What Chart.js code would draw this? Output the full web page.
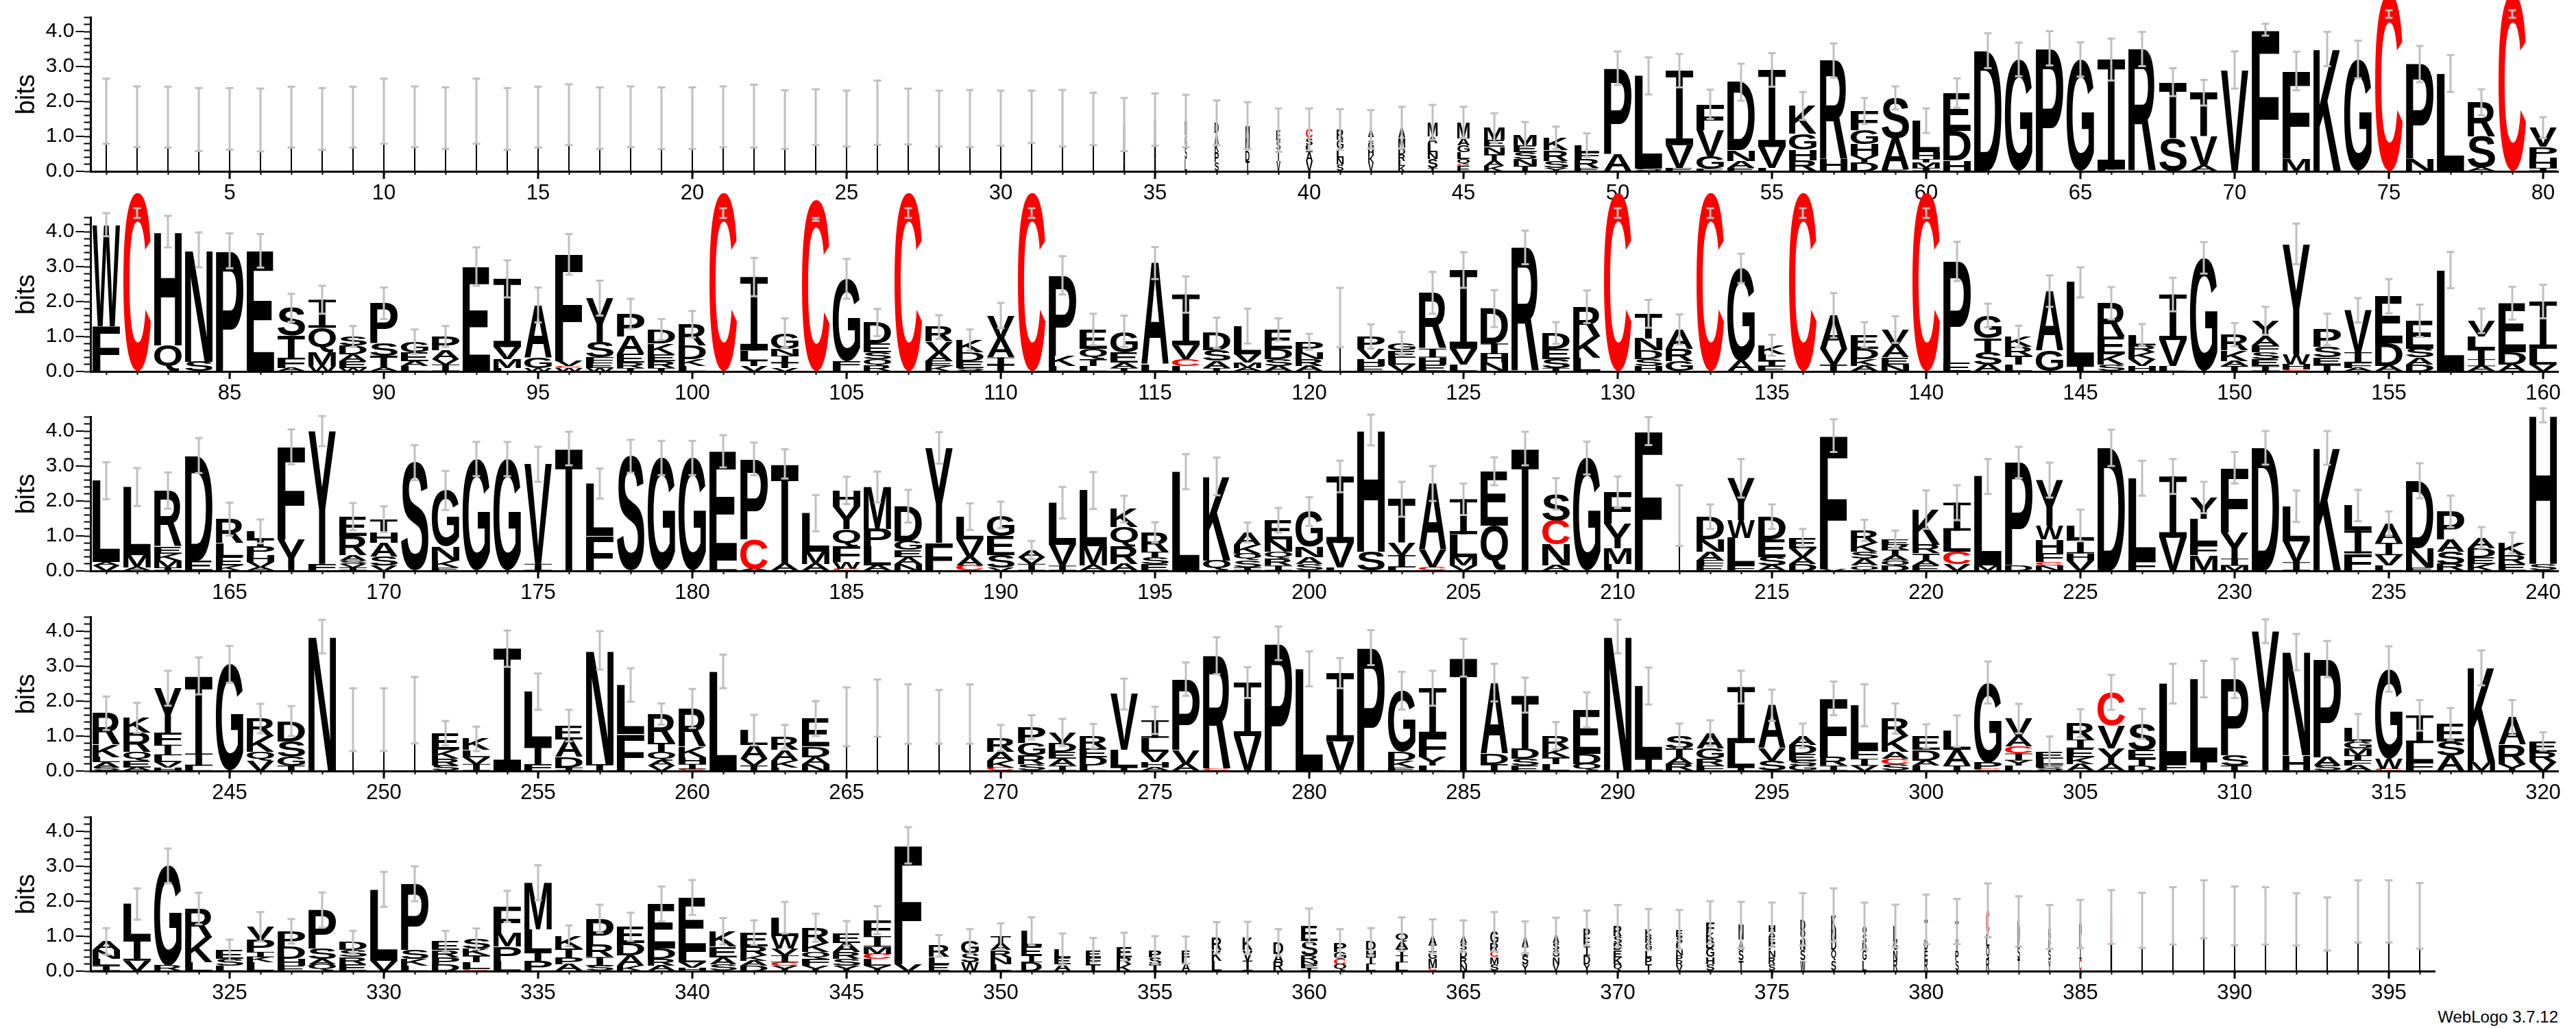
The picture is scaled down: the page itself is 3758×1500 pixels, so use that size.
<!DOCTYPE html>
<html>
<head>
<meta charset="utf-8">
<title>Sequence logo</title>
<script src="https://cdn.jsdelivr.net/npm/chart.js@4.4.1/dist/chart.umd.min.js"></script>
<style>
  html, body { margin: 0; padding: 0; background: #fff; }
  #page { position: relative; width: 3758px; height: 1500px; overflow: hidden; background: #fff; }
  #page canvas { position: absolute; left: 0; }
  #credit { position: absolute; right: 26px; top: 1472px; font: 24px "Liberation Sans", Arial, sans-serif; line-height: 24px; color: #000; }
</style>
</head>
<body>
<div id="page">
  <canvas id="row1" width="3758" height="322"></canvas>
  <canvas id="row2" width="3758" height="322"></canvas>
  <canvas id="row3" width="3758" height="322"></canvas>
  <canvas id="row4" width="3758" height="322"></canvas>
  <canvas id="row5" width="3758" height="322"></canvas>
  <div id="credit">WebLogo 3.7.12</div>
</div>
<script>
// each stack: letters bottom -> top, "<letter><bits>"
const rowStarts = [1, 81, 161, 241, 321];

const row1Stacks = [
  // 1-10
  'M1.72', 'S1.56', 'A1.55', 'L1.48', 'E1.5', 'T1.47', 'P1.55', 'K1.5', 'S1.55', 'M1.72',
  // 11-20
  'A1.56', 'L1.52', 'M1.72', 'S1.5', 'E1.55', 'P1.62', 'T1.52', 'A1.56', 'K1.52', 'L1.52',
  // 21-30
  'S1.56', 'M1.58', 'E1.48', 'A1.55', 'T1.51', 'M1.68', 'P1.57', 'S1.51', 'L1.51', 'A1.52',
  // 31-40
  'E1.56', 'K1.52', 'S1.5', 'S0.3 K0.3 D0.35 A0.39', 'T0.35 N0.35 E0.38 A0.4', 'L0.35 S0.35 G0.34 M0.4',
  'S0.25 P0.3 K0.25 A0.29 D0.3', 'T0.3 D0.3 N0.33 M0.38', 'V0.3 T0.3 S0.28 E0.3', 'V0.3 A0.25 L0.2 S0.2 C0.25',
  // 41-50
  'S0.2 N0.2 L0.25 G0.25 R0.3', 'V0.25 K0.2 H0.2 G0.2 I0.15 A0.2', 'K0.15 L0.15 R0.2 D0.15 M0.3 A0.3',
  'T0.1 S0.25 N0.2 L0.25 A0.2 M0.4', 'E0.15 C0.05 Q0.15 L0.2 G0.2 A0.2 M0.45', 'K0.15 A0.15 T0.2 N0.2 E0.2 M0.34',
  'T0.15 N0.2 S0.2 E0.2 M0.3', 'Y0.1 S0.2 R0.3 K0.36', 'E0.1 R0.25 F0.2 L0.2', 'A0.5 P2.45',
  // 51-60
  'S0.08 L2.65', 'E0.1 V0.65 I2.13', 'E0.08 G0.35 V0.75 F0.74', 'E0.1 A0.2 N0.3 D1.95', 'L0.1 V0.6 I2.2',
  'R0.32 H0.3 G0.45 K0.8', 'H0.35 R2.82', 'D0.25 Y0.2 H0.33 G0.4 F0.55', 'E0.05 A0.9 S1.15', 'I0.1 M0.15 T0.1 H0.2 L0.9',
  // 61-70
  'H0.32 D0.84 E1.08', 'D3.45', 'G3.2', 'P3.52', 'G3.2', 'L0.05 I3.15', 'R3.5', 'S0.95 T1.6', 'A0.15 V0.85 T1.25', 'V2.9',
  // 71-80
  'F4.05', 'M0.37 F2.5', 'K3.5', 'G3.2', 'C4.5', 'N0.35 P2.72', 'L2.8', 'A0.1 S0.9 R0.98', 'C4.5', 'I0.1 H0.3 P0.3 V0.55'
];
const row1Errors = [
  0.93, 0.87, 0.87, 0.9, 0.88, 0.9, 0.87, 0.88, 0.87, 0.93,
  0.87, 0.88, 0.93, 0.88, 0.87, 0.87, 0.88, 0.87, 0.88, 0.88,
  0.87, 0.9, 0.84, 0.8, 0.8, 0.92, 0.8, 0.8, 0.82, 0.79,
  0.75, 0.81, 0.75, 0.76, 0.75, 0.75, 0.64, 0.67, 0.62, 0.6,
  0.58, 0.55, 0.6, 0.5, 0.45, 0.42, 0.36, 0.32, 0.34, 0.48,
  0.53, 0.48, 0.42, 0.53, 0.48, 0.4, 0.49, 0.37, 0.33, 0.35,
  0.42, 0.5, 0.48, 0.49, 0.49, 0.6, 0.49, 0.4, 0.37, 0.53,
  0.17, 0.55, 0.49, 0.54, 0.11, 0.52, 0.53, 0.37, 0.11, 0.3
];

const row2Stacks = [
  // 81-90
  'F1.3 W2.9', 'C4.53', 'Q0.75 H3.25', 'S0.28 N3.2', 'P3.45', 'E3.45', 'A0.1 F0.3 T0.62 S0.8',
  'W0.15 M0.4 Q0.7 I0.8', 'W0.1 E0.2 A0.2 D0.25 S0.25', 'A0.1 T0.35 S0.35 P1.15',
  // 91-100
  'L0.15 A0.15 E0.25 G0.3', 'I0.2 V0.15 A0.25 P0.4', 'E3.0', 'L0.1 M0.25 V0.35 I1.95', 'W0.1 G0.3 A1.5',
  'W0.1 C0.05 V0.15 F3.05', 'W0.1 E0.15 F0.15 S0.45 Y1.25', 'T0.1 R0.15 E0.25 A0.5 P0.65',
  'T0.1 R0.2 E0.2 K0.3 D0.4', 'L0.15 K0.2 D0.4 R0.6',
  // 101-110
  'C4.53', 'V0.15 T0.15 L0.3 I2.1', 'V0.1 T0.15 I0.2 N0.2 G0.45', 'C4.35', 'L0.1 F0.2 G2.35',
  'R0.15 Q0.2 S0.2 E0.25 D0.6', 'C4.53', 'K0.15 E0.15 A0.25 V0.3 R0.42', 'S0.1 E0.2 D0.25 K0.35', 'T0.2 I0.2 A0.55 V0.65',
  // 111-120
  'C4.53', 'L0.15 K0.3 P2.3', 'L0.15 T0.2 Q0.3 E0.55', 'T0.1 A0.15 E0.3 G0.6', 'L0.2 A2.9',
  'L0.15 C0.2 V0.4 I1.45', 'T0.1 A0.2 S0.3 D0.5', 'A0.1 M0.15 V0.25 L0.8', 'A0.15 S0.2 D0.3 E0.55', 'A0.15 R0.2 N0.2 P0.3',
  // 121-130
  'S1.54', 'E0.15 H0.2 V0.3 P0.35', 'V0.2 L0.2 E0.2 G0.2', 'E0.2 H0.2 I0.25 R1.6', 'L0.2 V0.45 I2.25',
  'N0.25 H0.25 I0.3 D1.0', 'R3.55', 'T0.1 S0.25 E0.3 D0.45', 'L0.4 K0.6 R0.85', 'C4.53',
  // 131-140
  'H0.15 S0.2 D0.25 N0.35 T0.7', 'G0.3 R0.35 A0.55', 'C4.53', 'A0.3 G2.65', 'E0.15 I0.15 L0.2 K0.25',
  'C4.53', 'T0.2 V0.45 A0.95', 'A0.15 K0.2 D0.3 E0.4', 'N0.2 E0.2 A0.35 V0.45', 'C4.53',
  // 141-150
  'E0.25 P2.9', 'A0.2 S0.35 T0.4 G0.65', 'L0.2 T0.25 R0.25 K0.3', 'G0.6 A1.7', 'T0.15 L2.4',
  'S0.2 K0.3 E0.5 R0.95', 'H0.15 V0.2 K0.2 R0.2 L0.3', 'L0.15 V0.75 I1.3', 'G3.25', 'T0.15 A0.15 K0.3 R0.45',
  // 151-160
  'I0.15 E0.2 S0.2 F0.2 A0.25 Y0.45', 'C0.05 H0.15 W0.3 Y3.15', 'T0.2 E0.2 S0.3 P0.5', 'A0.1 F0.15 I0.3 V1.2',
  'A0.15 D0.65 E1.35', 'D0.2 A0.2 S0.25 E0.8', 'L2.9', 'A0.15 I0.2 T0.3 L0.35 V0.45', 'A0.2 D0.35 E1.4', 'V0.2 L0.45 I1.35'
];
const row2Errors = [
  0.33, 0.14, 0.45, 0.5, 0.5, 0.48, 0.4, 0.4, 0.3, 0.45,
  0.35, 0.3, 0.55, 0.53, 0.5, 0.58, 0.5, 0.43, 0.3, 0.38,
  0.14, 0.55, 0.42, 0.04, 0.57, 0.39, 0.14, 0.34, 0.3, 0.36,
  0.14, 0.55, 0.45, 0.45, 0.46, 0.52, 0.44, 0.5, 0.32, 0.23,
  0.85, 0.35, 0.33, 0.6, 0.51, 0.53, 0.48, 0.31, 0.47, 0.14,
  0.4, 0.43, 0.14, 0.42, 0.3, 0.14, 0.64, 0.36, 0.38, 0.14,
  0.56, 0.34, 0.31, 0.45, 0.43, 0.46, 0.31, 0.48, 0.45, 0.33,
  0.4, 0.58, 0.45, 0.35, 0.49, 0.46, 0.52, 0.35, 0.47, 0.48
];

const row3Stacks = [
  // 161-170
  'V0.15 A0.1 L2.33', 'A0.1 M0.35 L1.95', 'I0.1 M0.2 K0.2 E0.2 R1.6', 'E0.3 D3.0', 'K0.15 E0.25 L0.4 R0.68',
  'A0.1 V0.15 H0.2 P0.25 T0.2 L0.23', 'Y0.9 F2.65', 'F0.2 Y3.8', 'I0.1 V0.1 S0.1 A0.15 R0.55 E0.55', 'V0.15 S0.25 A0.4 H0.3 T0.38',
  // 171-180
  'S3.1', 'E0.1 K0.2 N0.4 G1.6', 'G3.2', 'G3.2', 'I0.2 V2.85', 'T3.5', 'F1.0 L1.5', 'S3.28', 'G3.23', 'G3.23',
  // 181-190
  'L0.3 E3.12', 'A0.05 C0.85 P2.3', 'A0.2 T2.86', 'A0.2 M0.35 L1.1', 'C0.05 W0.2 F0.45 Q0.5 Y0.65 H0.45',
  'A0.15 L0.55 P0.5 M1.2', 'N0.2 A0.2 E0.2 G0.25 D1.0', 'F0.8 Y2.72', 'C0.15 A0.25 V0.5 L0.65', 'V0.1 S0.35 E0.55 G0.6',
  // 191-200
  'I0.2 V0.2 A0.2', 'I0.15 V0.6 L1.2', 'A0.15 M0.55 L1.6', 'A0.2 R0.5 Q0.55 K0.52', 'E0.2 S0.2 T0.15 R0.55',
  'L2.84', 'Q0.3 K2.4', 'I0.1 S0.2 Q0.2 K0.25 A0.35', 'I0.15 R0.2 Q0.2 N0.35 E0.55', 'S0.2 A0.2 N0.3 G1.0',
  // 201-210
  'L0.1 V0.7 I1.9', 'S0.55 H3.48', 'L0.1 I0.35 V0.35 T1.25', 'C0.1 V0.5 A1.9', 'V0.15 M0.25 L0.65 I1.0',
  'Q1.3 E1.55', 'T3.5', 'A0.15 N0.6 C0.7 S0.75', 'G3.23', 'L0.2 M0.45 Y0.7 F0.9',
  // 211-220
  'F4.0', 'S1.58', 'E0.15 F0.15 A0.25 N0.35 D0.65', 'F0.15 L0.8 W0.5 Y1.2', 'A0.15 S0.25 E0.5 D0.65',
  'D0.2 A0.2 V0.25 E0.3', 'V0.05 F3.82', 'Q0.15 A0.2 S0.2 K0.25 R0.36', 'D0.15 Q0.15 A0.15 T0.15 R0.15 E0.15', 'E0.15 A0.15 T0.2 R0.25 K1.0',
  // 221-230
  'V0.2 C0.35 L0.6 I0.8', 'M0.15 L2.55', 'D0.15 P2.95', 'N0.15 C0.1 F0.25 H0.4 W0.4 Y1.3', 'V0.3 H0.2 I0.4 L0.4',
  'D3.52', 'F0.3 L2.35', 'V0.95 I1.75', 'M0.45 F0.3 L0.75 Y0.6', 'M0.15 I0.2 Y0.75 F1.85',
  // 231-240
  'D3.52', 'I0.25 V0.6 L1.0', 'K3.52', 'F0.5 I0.65 L0.72', 'L0.15 V0.3 I0.35 A0.55',
  'E0.1 N0.55 D1.93', 'R0.2 S0.35 A0.35 P0.8', 'K0.2 E0.2 D0.25 A0.3', 'E0.2 R0.25 K0.35', 'S0.2 H4.25'
];
const row3Errors = [
  0.53, 0.54, 0.52, 0.5, 0.47, 0.34, 0.5, 0.43, 0.39, 0.37,
  0.5, 0.56, 0.49, 0.49, 0.5, 0.48, 0.43, 0.47, 0.49, 0.49,
  0.46, 0.47, 0.42, 0.52, 0.39, 0.44, 0.47, 0.45, 0.38, 0.38,
  0.26, 0.45, 0.53, 0.38, 0.29, 0.5, 0.54, 0.28, 0.35, 0.41,
  0.45, 0.44, 0.5, 0.5, 0.45, 0.4, 0.48, 0.45, 0.47, 0.45,
  0.4, 0.87, 0.35, 0.55, 0.35, 0.25, 0.47, 0.3, 0.25, 0.55,
  0.5, 0.5, 0.45, 0.5, 0.45, 0.52, 0.5, 0.5, 0.45, 0.45,
  0.48, 0.45, 0.48, 0.45, 0.35, 0.5, 0.45, 0.3, 0.3, 0.2
];

const row4Stacks = [
  // 241-250
  'S0.1 A0.15 L0.15 K0.35 R0.9', 'A0.1 E0.2 Q0.25 R0.55 K0.42', 'H0.1 V0.15 L0.2 I0.3 F0.35 Y1.27', 'L0.15 I0.35 T2.22', 'G3.05',
  'V0.3 Q0.25 K0.45 R0.5', 'T0.15 G0.25 S0.45 D0.58', 'N3.85', 'A1.47', 'S1.47',
  // 251-260
  'G1.74', 'S0.15 R0.2 K0.25 E0.48', 'I0.2 V0.2 L0.2 K0.32', 'I3.5', 'F0.2 T0.55 L1.52',
  'I0.1 D0.3 A0.5 E0.4', 'T0.2 N3.25', 'F1.05 L1.41', 'V0.15 A0.15 Q0.25 T0.25 R0.83', 'C0.05 I0.15 H0.2 K0.3 R1.09',
  // 261-270
  'L2.85', 'T0.15 V0.2 A0.4 L0.42', 'L0.1 K0.2 A0.3 R0.38', 'N0.2 A0.2 D0.3 E0.8', 'E1.55',
  'K1.8', 'D1.63', 'S1.55', 'A1.63', 'C0.1 K0.2 A0.25 R0.4',
  // 271-280
  'S0.2 R0.25 G0.35 P0.45', 'I0.15 A0.2 E0.2 D0.25 V0.3', 'L0.15 D0.25 E0.25 R0.35', 'T0.1 L0.5 V1.6', 'A0.1 H0.15 V0.3 L0.4 I0.5',
  'A0.2 V0.4 P2.03', 'C0.05 R3.25', 'V1.0 I1.53', 'P3.65', 'L2.92',
  // 281-290
  'V0.85 I1.95', 'P3.53', 'E0.1 K0.2 D0.25 G1.75', 'L0.15 Y0.25 F0.6 I1.37', 'T3.24',
  'T0.2 D0.3 A2.03', 'E0.15 S0.2 D0.3 T1.52', 'L0.2 T0.2 K0.25 R0.36', 'Q0.2 D0.3 E1.25', 'N3.85',
  // 291-300
  'I0.35 L2.08', 'R0.2 A0.2 T0.25 S0.36', 'F0.15 R0.2 G0.3 A0.43', 'T0.1 L0.7 I1.6', 'S0.3 V0.35 A1.23',
  'G0.15 S0.15 E0.2 D0.25 A0.26', 'I0.15 R0.25 F1.68', 'V0.15 I0.2 F0.25 L1.28', 'S0.2 C0.15 A0.2 K0.45 R0.5', 'L0.15 A0.15 D0.3 E0.4',
  // 301-310
  'T0.15 A0.45 L0.54', 'C0.05 P0.2 G2.28', 'L0.15 Y0.15 I0.2 C0.2 A0.3 V0.5', 'S0.1 F0.1 L0.15 E0.2', 'A0.2 K0.2 E0.25 I0.25 R0.47',
  'A0.2 Y0.45 V0.65 C0.95', 'D0.15 T0.2 E0.25 S0.75', 'F0.2 L2.3', 'T0.3 L2.33', 'T0.15 S0.3 P2.2',
  // 311-320
  'Y4.0', 'H0.45 N2.95', 'S0.15 A0.25 P2.8', 'A0.15 F0.15 T0.15 M0.2 G0.2 L0.39', 'C0.05 W0.3 G2.57',
  'F0.25 L0.55 I0.79', 'A0.45 S0.4 E0.49', 'M0.25 K2.7', 'Y0.2 R0.55 A0.78', 'V0.25 R0.3 E0.3'
];
const row4Errors = [
  0.48, 0.43, 0.5, 0.53, 0.53, 0.42, 0.43, 0.48, 0.9, 0.9,
  0.95, 0.35, 0.35, 0.52, 0.52, 0.45, 0.55, 0.48, 0.3, 0.56,
  0.48, 0.44, 0.34, 0.5, 0.84, 0.82, 0.85, 0.77, 0.85, 0.37,
  0.35, 0.39, 0.35, 0.44, 0.39, 0.48, 0.53, 0.44, 0.48, 0.5,
  0.43, 0.5, 0.54, 0.5, 0.54, 0.54, 0.5, 0.39, 0.5, 0.48,
  0.53, 0.35, 0.37, 0.47, 0.45, 0.35, 0.48, 0.6, 0.43, 0.34,
  0.45, 0.6, 0.42, 0.44, 0.4, 0.5, 0.43, 0.57, 0.52, 0.56,
  0.34, 0.52, 0.52, 0.39, 0.65, 0.44, 0.46, 0.5, 0.5, 0.26
];

const row5Stacks = [
  // 321-330
  'I0.15 L0.2 N0.25 A0.25', 'V0.3 I0.6 L1.02', 'R0.15 G2.86', 'L0.25 K0.7 R0.84', 'L0.15 S0.2 E0.25',
  'L0.25 K0.15 I0.15 P0.35 V0.37', 'E0.15 H0.2 D0.35 P0.44', 'Q0.2 A0.15 S0.3 P1.1', 'E0.2 R0.2 S0.2 D0.22', 'V0.3 L2.04',
  // 331-340
  'L0.15 K0.2 S0.25 P1.9', 'D0.2 P0.2 R0.2 E0.25', 'C0.05 L0.2 T0.2 K0.2 S0.27', 'L0.3 P0.4 M0.4 F0.75', 'P0.3 T0.25 L0.65 M1.33',
  'A0.2 P0.2 T0.25 K0.36', 'S0.15 I0.25 R0.35 P0.75', 'K0.15 A0.3 D0.35 E0.47', 'A0.15 R0.2 D0.3 E1.27', 'H0.1 V0.15 L0.3 E1.56',
  // 341-350
  'S0.2 A0.2 E0.3 K0.44', 'D0.15 A0.15 K0.15 R0.25 E0.4', 'Y0.15 C0.1 I0.2 V0.2 W0.35 L0.53', 'Y0.15 F0.2 Q0.2 K0.25 R0.44',
  'Y0.15 S0.2 R0.2 A0.25 E0.28', 'Y0.15 L0.2 C0.15 M0.2 I0.3 F0.46', 'V0.2 F3.4', 'E0.2 L0.2 R0.32', 'W0.25 S0.25 G0.35', 'L0.2 N0.2 R0.2 A0.2 T0.2',
  // 351-360
  'D0.25 I0.2 E0.25 L0.44', 'A0.2 E0.2 L0.23', 'T0.2 F0.2 E0.2', 'K0.2 R0.2 E0.3', 'T0.2 S0.2 P0.2',
  'A0.2 L0.2 E0.2', 'L0.3 K0.3 R0.35', 'I0.3 V0.3 K0.35', 'R0.25 A0.25 D0.32', 'I0.1 P0.1 N0.1 R0.15 S0.42 E0.42',
  // 361-370
  'Q0.2 C0.15 G0.2 P0.25', 'L0.2 I0.2 H0.2 D0.24', 'L0.25 I0.2 T0.2 A0.2 Q0.21', 'C0.1 M0.25 G0.2 I0.2 A0.25', 'N0.2 R0.2 D0.2 S0.2 A0.2',
  'S0.2 M0.2 C0.15 R0.25 G0.33', 'Y0.2 S0.25 I0.25 A0.27', 'V0.2 N0.2 G0.2 S0.2 A0.23', 'Y0.2 D0.25 I0.25 E0.25 P0.28', 'Q0.2 K0.2 E0.2 D0.2 S0.2 R0.29',
  // 371-380
  'T0.2 P0.2 L0.2 G0.2 R0.2 K0.19', 'V0.15 R0.15 P0.15 N0.15 L0.2 S0.19 E0.2', 'S0.2 H0.2 G0.25 D0.25 K0.2 F0.29', 'T0.3 S0.3 A0.3 N0.42',
  'S0.2 R0.2 N0.2 F0.2 E0.2 A0.12 H0.2', 'W0.3 S0.3 N0.3 Q0.28 D0.3', 'S0.3 Q0.3 D0.3 N0.3 K0.41', 'L0.3 G0.3 D0.2 S0.25 Q0.24',
  'R0.3 N0.3 G0.25 L0.44', 'R0.3 E0.3 D0.3 T0.58',
  // 381-390
  'S0.3 P0.3 Y0.3 T0.52', 'R0.35 Q0.35 L0.35 C0.69', 'T0.35 S0.35 D0.72', 'Y0.3 S0.3 R0.3 G0.36', 'C0.35 I0.35 K0.35 H0.3',
  'S0.8 C0.75', 'Q0.7 L0.75', 'N0.7 V0.88', 'I0.9 L0.87', 'A0.7 T0.88',
  // 391-396
  'E0.7 F0.88', 'S0.7 V0.78', 'Q0.6 L0.75', 'I0.9 V0.81', 'T0.9 I0.81', 'S0.8 A0.78'
];
const row5Errors = [
  0.38, 0.45, 0.5, 0.45, 0.3, 0.42, 0.35, 0.5, 0.33, 0.5,
  0.5, 0.3, 0.3, 0.45, 0.5, 0.3, 0.4, 0.4, 0.5, 0.5,
  0.38, 0.35, 0.45, 0.4, 0.35, 0.4, 0.52, 0.31, 0.35, 0.37,
  0.4, 0.45, 0.35, 0.4, 0.4, 0.39, 0.45, 0.46, 0.38, 0.5,
  0.4, 0.39, 0.48, 0.48, 0.45, 0.56, 0.45, 0.5, 0.5, 0.6,
  0.59, 0.56, 0.61, 0.66, 0.64, 0.75, 0.76, 0.67, 0.61, 0.71,
  0.65, 0.77, 0.72, 0.63, 0.69, 0.77, 0.79, 0.82, 0.83, 0.84,
  0.82, 0.75, 0.76, 0.89, 0.89, 0.94
];

// columns drawn narrower (fraction of the full stack width), [from, to, fraction]
const narrowColumns = [
  [1, 33, 0.05], [34, 35, 0.06], [36, 36, 0.08], [37, 39, 0.15], [40, 41, 0.25], [42, 42, 0.2], [43, 43, 0.25],
  [44, 44, 0.36], [45, 45, 0.45], [46, 46, 0.75], [47, 47, 0.84], [48, 49, 0.9],
  [121, 121, 0.04], [212, 212, 0.04], [249, 251, 0.04], [265, 269, 0.04],
  [348, 348, 0.75], [349, 349, 0.65], [350, 351, 0.75], [352, 352, 0.6], [353, 354, 0.55], [355, 355, 0.45],
  [356, 356, 0.3], [357, 359, 0.36], [360, 360, 0.6], [361, 361, 0.45], [362, 362, 0.35], [363, 363, 0.45],
  [364, 364, 0.3], [365, 365, 0.25], [366, 366, 0.3], [367, 369, 0.24], [370, 370, 0.3], [371, 372, 0.24],
  [373, 373, 0.3], [374, 374, 0.18], [375, 375, 0.24], [376, 377, 0.18], [378, 379, 0.15], [380, 382, 0.12],
  [383, 385, 0.09], [386, 386, 0.06], [387, 396, 0.05]
];

const rowStacks = [row1Stacks, row2Stacks, row3Stacks, row4Stacks, row5Stacks];
const rowErrors = [row1Errors, row2Errors, row3Errors, row4Errors, row5Errors];

const FONT = '"Liberation Sans", Arial, Helvetica, sans-serif';
const GLYPH_FONT = 'bold 200px ' + FONT;
const ROW_STEP = 291.7;
const COL_PX = 45;

function columnWidth(pos) {
  for (const [a, b, f] of narrowColumns) {
    if (pos >= a && pos <= b) return f;
  }
  return 1;
}

function parseStack(s) {
  s = s.trim();
  if (!s) return [];
  return s.split(/\s+/).map(t => ({ ch: t[0], h: parseFloat(t.slice(1)) }));
}

const measureCtx = document.createElement('canvas').getContext('2d');
const glyphCache = {};
function glyphBox(ch) {
  if (!glyphCache[ch]) {
    measureCtx.font = GLYPH_FONT;
    const m = measureCtx.measureText(ch);
    glyphCache[ch] = {
      left: m.actualBoundingBoxLeft,
      asc: m.actualBoundingBoxAscent,
      w: m.actualBoundingBoxLeft + m.actualBoundingBoxRight,
      h: m.actualBoundingBoxAscent + m.actualBoundingBoxDescent
    };
  }
  return glyphCache[ch];
}

// stretch one letter into the box
function drawGlyph(ctx, ch, x, y, w, h) {
  if (w <= 0 || h <= 0.2) return;
  ctx.fillStyle = ch === 'C' ? '#ff0000' : '#000000';
  if (w < 3) {
    // squeezed column: the letter is just a line
    ctx.fillRect(x, y, w, h);
    return;
  }
  if (ch === 'I') {
    // weblogo style I with bars
    const bar = Math.min(h, Math.max(h * 0.09, 1));
    ctx.fillRect(x, y, w, bar);
    ctx.fillRect(x, y + h - bar, w, bar);
    const sw = Math.max(w * 0.24, 1);
    ctx.fillRect(x + (w - sw) / 2, y, sw, h);
    return;
  }
  const g = glyphBox(ch);
  ctx.save();
  ctx.translate(x, y);
  ctx.scale(w / g.w, h / g.h);
  ctx.font = GLYPH_FONT;
  ctx.textAlign = 'left';
  ctx.textBaseline = 'alphabetic';
  ctx.fillText(ch, g.left, g.asc);
  ctx.restore();
}

function makeLogoPlugin(positions, totals, errors, widths) {
  return {
    id: 'logoStacks',
    afterDatasetsDraw(chart) {
      const ctx = chart.ctx;
      const xs = chart.scales.x, ys = chart.scales.y;
      const area = chart.chartArea;
      const topIndex = positions.map(() => -1);
      chart.data.datasets.forEach((ds, k) => ds.data.forEach((v, i) => { if (v > 0) topIndex[i] = k; }));

      ctx.save();
      chart.data.datasets.forEach((ds, k) => {
        const meta = chart.getDatasetMeta(k);
        meta.data.forEach((bar, i) => {
          const ch = ds.letters[i];
          if (!ch || !(ds.data[i] > 0)) return;
          const p = bar.getProps(['x', 'y', 'base', 'width'], true);
          const w = Math.max(p.width * widths[i], 2);
          let top = Math.min(p.y, p.base);
          let h = Math.abs(p.base - p.y);
          if (ch === 'C' && k === topIndex[i] && ds.data[i] > 3) {
            top -= h * 0.13;
            h *= 1.13;
          }
          drawGlyph(ctx, ch, p.x - w / 2, top, w, h);
        });
      });

      // error bars
      ctx.strokeStyle = '#c0c0c0';
      ctx.lineWidth = 3;
      totals.forEach((t, i) => {
        const e = errors[i];
        const cx = xs.getPixelForValue(i);
        const y1 = ys.getPixelForValue(t + e);
        const y2 = ys.getPixelForValue(Math.max(t - e, 0));
        ctx.beginPath();
        ctx.moveTo(cx, y1); ctx.lineTo(cx, y2);
        ctx.moveTo(cx - 5.5, y1); ctx.lineTo(cx + 5.5, y1);
        ctx.moveTo(cx - 5.5, y2); ctx.lineTo(cx + 5.5, y2);
        ctx.stroke();
      });

      // longer ticks every 5 positions and on whole bits
      ctx.fillStyle = '#000';
      positions.forEach((pos, i) => {
        if (pos % 5 === 0) {
          const cx = xs.getPixelForValue(i);
          ctx.fillRect(cx - 1.5, area.bottom, 3, 11);
        }
      });
      for (let v = 0; v <= 4; v++) {
        const py = ys.getPixelForValue(v);
        ctx.fillRect(area.left - 22, py - 1, 12, 2);
      }
      ctx.restore();
    }
  };
}

rowStacks.forEach((stacks, r) => {
  const positions = stacks.map((_, i) => rowStarts[r] + i);
  const parsed = stacks.map(parseStack);
  const depth = Math.max(...parsed.map(s => s.length));
  const datasets = [];
  for (let k = 0; k < depth; k++) {
    datasets.push({
      data: parsed.map(s => (s[k] ? s[k].h : 0)),
      letters: parsed.map(s => (s[k] ? s[k].ch : '')),
      backgroundColor: 'rgba(0,0,0,0)',
      borderWidth: 0,
      stack: 'logo'
    });
  }
  const totals = parsed.map(s => s.reduce((a, l) => a + l.h, 0));
  const widths = positions.map(columnWidth);

  const canvas = document.getElementById('row' + (r + 1));
  canvas.style.top = (Math.round(r * ROW_STEP) - 30) + 'px';
  const rightPad = 3758 - (132.5 + positions.length * COL_PX);

  new Chart(canvas, {
    type: 'bar',
    data: { labels: positions.map(String), datasets },
    options: {
      responsive: false,
      animation: false,
      events: [],
      layout: { padding: { top: 55.6, left: 0, right: rightPad, bottom: 0 } },
      datasets: { bar: { barPercentage: 0.89, categoryPercentage: 1 } },
      scales: {
        x: {
          stacked: true,
          offset: true,
          grid: { display: true, drawOnChartArea: false, offset: false, tickLength: 5, tickWidth: 2, tickColor: '#000' },
          border: { display: true, width: 3, color: '#000' },
          ticks: {
            autoSkip: false, maxRotation: 0, minRotation: 0, padding: 9, color: '#000',
            font: { family: FONT, size: 31 },
            callback: (v, i) => (positions[i] % 5 === 0 ? String(positions[i]) : '')
          },
          afterFit: s => { s.height = 42; }
        },
        y: {
          stacked: true,
          min: 0,
          max: 4.4,
          grid: { display: true, drawOnChartArea: false, tickLength: 10, tickWidth: 2, tickColor: '#000' },
          border: { display: true, width: 3, color: '#000' },
          ticks: {
            stepSize: 0.2, maxTicksLimit: 100, autoSkip: false, includeBounds: false, padding: 14, color: '#000',
            font: { family: FONT, size: 30 },
            callback: v => (Math.abs(v - Math.round(v)) < 1e-6 ? v.toFixed(1) : '')
          },
          title: { display: true, text: 'bits', color: '#000', font: { family: FONT, size: 38 }, padding: { top: 17, bottom: 0 } },
          afterFit: s => { s.width = 132.5; }
        }
      },
      plugins: { legend: { display: false }, tooltip: { enabled: false } }
    },
    plugins: [makeLogoPlugin(positions, totals, rowErrors[r], widths)]
  });
});
</script>
</body>
</html>
